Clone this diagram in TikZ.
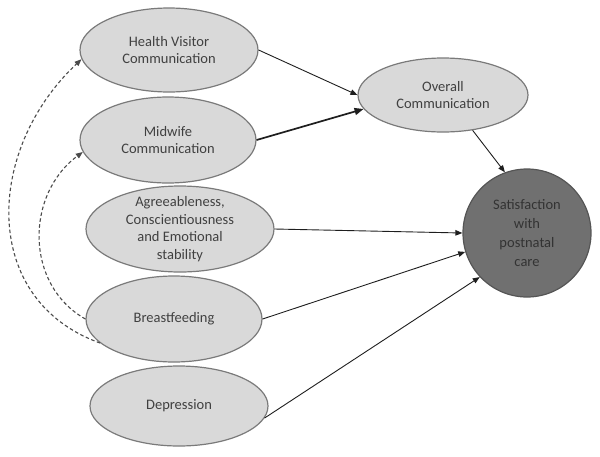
\documentclass[tikz,border=0pt]{standalone}
\usepackage{fontspec}
\setmainfont{Carlito}
\usetikzlibrary{shapes.geometric,arrows.meta}
\definecolor{efill}{HTML}{D9D9D9}
\definecolor{edraw}{HTML}{7A7A7A}
\definecolor{etext}{HTML}{404040}
\definecolor{sfill}{HTML}{707070}
\definecolor{cline}{HTML}{1E1E1E}
\tikzset{
  oval/.style={ellipse, draw=edraw, fill=efill, line width=1.2pt, inner sep=0pt},
  lbl/.style={text=etext, align=center, font=\fontsize{14.5}{17.6}\selectfont},
  conn/.style={draw=cline, line width=0.9pt, -{Triangle[length=7pt,width=5.5pt]}},
  thickconn/.style={draw=cline, line width=1.7pt, -{Triangle[length=9pt,width=7pt]}},
  dconn/.style={draw=cline!80, line width=1.1pt, dash pattern=on 3.5pt off 2.5pt, -{Triangle[length=7pt,width=5.5pt]}}
}
\begin{document}
\begin{tikzpicture}[x=1pt,y=-1pt]
\useasboundingbox (0,0) rectangle (600,456);
\node[oval, minimum width=178pt, minimum height=84pt,
  label={[lbl]center:Health Visitor\\Communication}] (hv) at (169,50) {};
\node[oval, minimum width=176pt, minimum height=86pt,
  label={[lbl]center:Midwife\\Communication}] (mw) at (168,140) {};
\node[oval, minimum width=188pt, minimum height=86pt,
  label={[lbl]center:Agreeableness,\\Conscientiousness\\and Emotional\\stability}] (ag) at (180,229) {};
\node[oval, minimum width=176pt, minimum height=86pt,
  label={[lbl]center:Breastfeeding}] (bf) at (174,319) {};
\node[oval, minimum width=178pt, minimum height=80pt,
  label={[lbl]center:Depression}] (dep) at (179,406) {};
\node[oval, minimum width=170pt, minimum height=74pt,
  label={[lbl]center:Overall\\Communication}] (ov) at (443,95) {};
\node[circle, draw=edraw!70!black, fill=sfill, line width=1.2pt, minimum size=128pt, inner sep=0pt,
  label={[lbl, text=black!80, font=\fontsize{14.5}{19}\selectfont]center:Satisfaction\\with\\postnatal\\care}] (sat) at (527,233) {};

\draw[conn] (hv.east) -- (ov.west);
\draw[thickconn] (mw.east) -- (ov.190);
\draw[conn] (ov.-50) -- (sat.110);
\draw[conn] (ag.east) -- (sat.west);
\draw[conn] (bf.east) -- (sat.197);
\draw[conn] (dep.-8) -- (sat.223);

\draw[dconn] (bf.198) .. controls (-20,300) and (-15,150) .. (hv.186);
\draw[dconn] (bf.180) .. controls (25,285) and (25,195) .. (mw.188);
\end{tikzpicture}
\end{document}
